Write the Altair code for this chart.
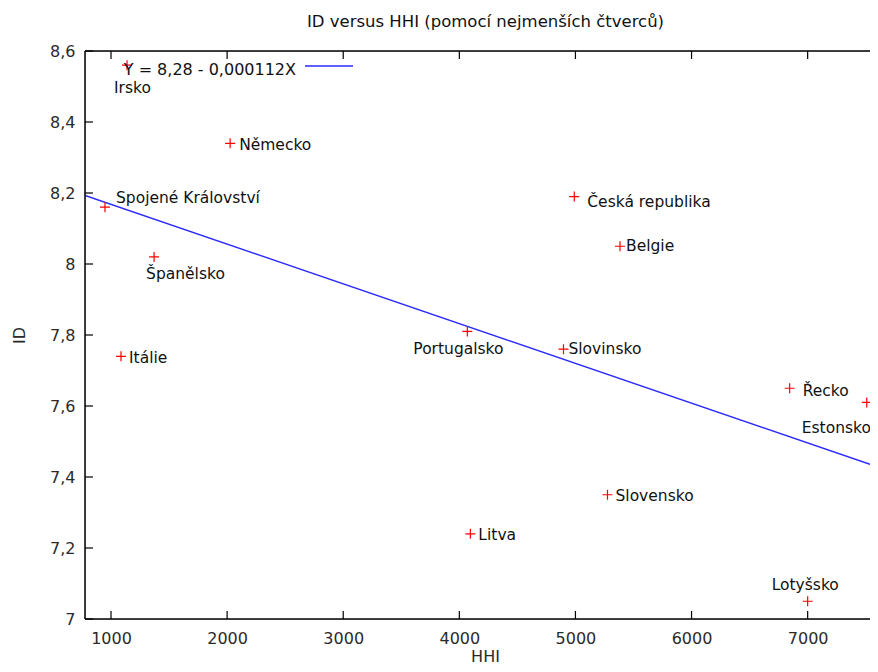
import altair as alt
import pandas as pd

# ---- data ----
countries = ["Irsko", "Německo", "Spojené Království", "Španělsko", "Itálie",
             "Portugalsko", "Slovinsko", "Česká republika", "Belgie", "Řecko",
             "Estonsko", "Slovensko", "Litva", "Lotyšsko"]
hhi = [1138, 2026, 948, 1371, 1086, 4069, 4897, 4990, 5384, 6845, 7509, 5276, 4095, 7000]
id_vals = [8.56, 8.34, 8.16, 8.02, 7.74, 7.81, 7.76, 8.19, 8.05, 7.65, 7.61, 7.35, 7.24, 7.05]

# label placement (pixel offsets from the point), style only
label_dx = [-13, 9, 11, -8, 8, -54, 5, 13, 6, 13, -65, 8, 8, -36]
label_dy = [23, 2, -9, 17, 2, 18, 0, 5, 0, 3, 26, 1, 1, -16]

x_ticks = [1000, 2000, 3000, 4000, 5000, 6000, 7000]
y_ticks = [7.0, 7.2, 7.4, 7.6, 7.8, 8.0, 8.2, 8.4, 8.6]

X_MIN, X_MAX = 776, 7537
Y_MIN, Y_MAX = 7.0, 8.6
INTERCEPT, SLOPE = 8.28, -0.000112
fit_label = "Y = 8,28 - 0,000112X"
title_text = "ID versus HHI (pomocí nejmenších čtverců)"

W, H = 785, 568
FONT = "DejaVu Sans"
FS = 16
LFS = 15.5

df = pd.DataFrame({"country": countries, "HHI": hhi, "ID": id_vals})
line_df = pd.DataFrame({"HHI": [X_MIN, X_MAX]})
xt_df = pd.DataFrame({"t": x_ticks})
yt_df = pd.DataFrame({"t": y_ticks})
one = pd.DataFrame({"t": [0]})

xscale = alt.Scale(domain=[X_MIN, X_MAX], nice=False, zero=False)
yscale = alt.Scale(domain=[Y_MIN, Y_MAX], nice=False, zero=False)

xaxis = alt.Axis(values=x_ticks, ticks=False, domain=False, grid=False,
                 format="d",
                 labelFont=FONT, labelFontSize=FS, labelColor="#2a2a2a",
                 labelPadding=11, labelFlush=False,
                 title="HHI", titleFont=FONT, titleFontSize=FS,
                 titleFontWeight="normal", titleColor="#2a2a2a",
                 titleX=400, titleY=37, titleBaseline="middle", titleAlign="center")
yaxis = alt.Axis(values=y_ticks, ticks=False, domain=False, grid=False,
                 labelFont=FONT, labelFontSize=FS, labelColor="#2a2a2a",
                 labelPadding=10, title="ID", titleFont=FONT, titleFontSize=FS,
                 titleFontWeight="normal", titleColor="#2a2a2a", titlePadding=22,
                 labelExpr="replace(format(datum.value, '.1~f'), '.', ',')")

points = alt.Chart(df).mark_point(
    shape="M-1,0L1,0M0,-1L0,1", size=100, filled=False,
    color="#ff0000", strokeWidth=1.2, opacity=1
).encode(
    x=alt.X("HHI:Q", scale=xscale, axis=xaxis),
    y=alt.Y("ID:Q", scale=yscale, axis=yaxis),
)

label_layers = []
for name, dx, dy in zip(countries, label_dx, label_dy):
    label_layers.append(
        alt.Chart(df).transform_filter(alt.datum.country == name).mark_text(
            align="left", baseline="middle", font=FONT, fontSize=LFS,
            color="#111", dx=dx, dy=dy
        ).encode(
            x=alt.X("HHI:Q", scale=xscale),
            y=alt.Y("ID:Q", scale=yscale),
            text="country:N",
        )
    )

fit = alt.Chart(line_df).transform_calculate(
    ID=f"{INTERCEPT} + ({SLOPE}) * datum.HHI"
).mark_line(color="#2a2aff", strokeWidth=1.5, clip=True).encode(
    x=alt.X("HHI:Q", scale=xscale),
    y=alt.Y("ID:Q", scale=yscale),
)

tick_style = dict(color="#000", strokeWidth=1.2)
bottom_ticks = alt.Chart(xt_df).mark_rule(**tick_style).encode(
    x=alt.X("t:Q", scale=xscale), y=alt.value(H), y2=alt.value(H - 8))
top_ticks = alt.Chart(xt_df).mark_rule(**tick_style).encode(
    x=alt.X("t:Q", scale=xscale), y=alt.value(0), y2=alt.value(8))
left_ticks = alt.Chart(yt_df).mark_rule(**tick_style).encode(
    y=alt.Y("t:Q", scale=yscale), x=alt.value(0), x2=alt.value(8))

border_style = dict(color="#000", strokeWidth=1.5)
left_border = alt.Chart(one).mark_rule(**border_style).encode(
    x=alt.value(0), y=alt.value(0), y2=alt.value(H))
top_border = alt.Chart(one).mark_rule(**border_style).encode(
    x=alt.value(0), x2=alt.value(W), y=alt.value(0))
bottom_border = alt.Chart(one).mark_rule(**border_style).encode(
    x=alt.value(0), x2=alt.value(W), y=alt.value(H))

legend_text = alt.Chart(pd.DataFrame({"t": [fit_label]})).mark_text(
    align="right", baseline="middle", font=FONT, fontSize=FS, color="#111"
).encode(x=alt.value(211), y=alt.value(19), text="t:N")
legend_line = alt.Chart(pd.DataFrame({"t": [fit_label]})).mark_rule(
    color="#2a2aff", strokeWidth=1.5
).encode(x=alt.value(220), x2=alt.value(268), y=alt.value(15))

chart = alt.layer(
    fit, points, *label_layers, bottom_ticks, top_ticks, left_ticks,
    left_border, top_border, bottom_border, legend_line, legend_text
).properties(
    width=W, height=H,
    title=alt.TitleParams(title_text, font=FONT, fontSize=16.5, fontWeight="normal",
                          color="#111", offset=13, anchor="middle", dx=8),
    autosize=alt.AutoSizeParams(type="none"),
    padding={"left": 77, "top": 43, "right": 0, "bottom": 45},
).configure_view(
    stroke=None
).configure(background="white")

chart.save("out.html", embed_options={"renderer": "svg", "actions": False})
